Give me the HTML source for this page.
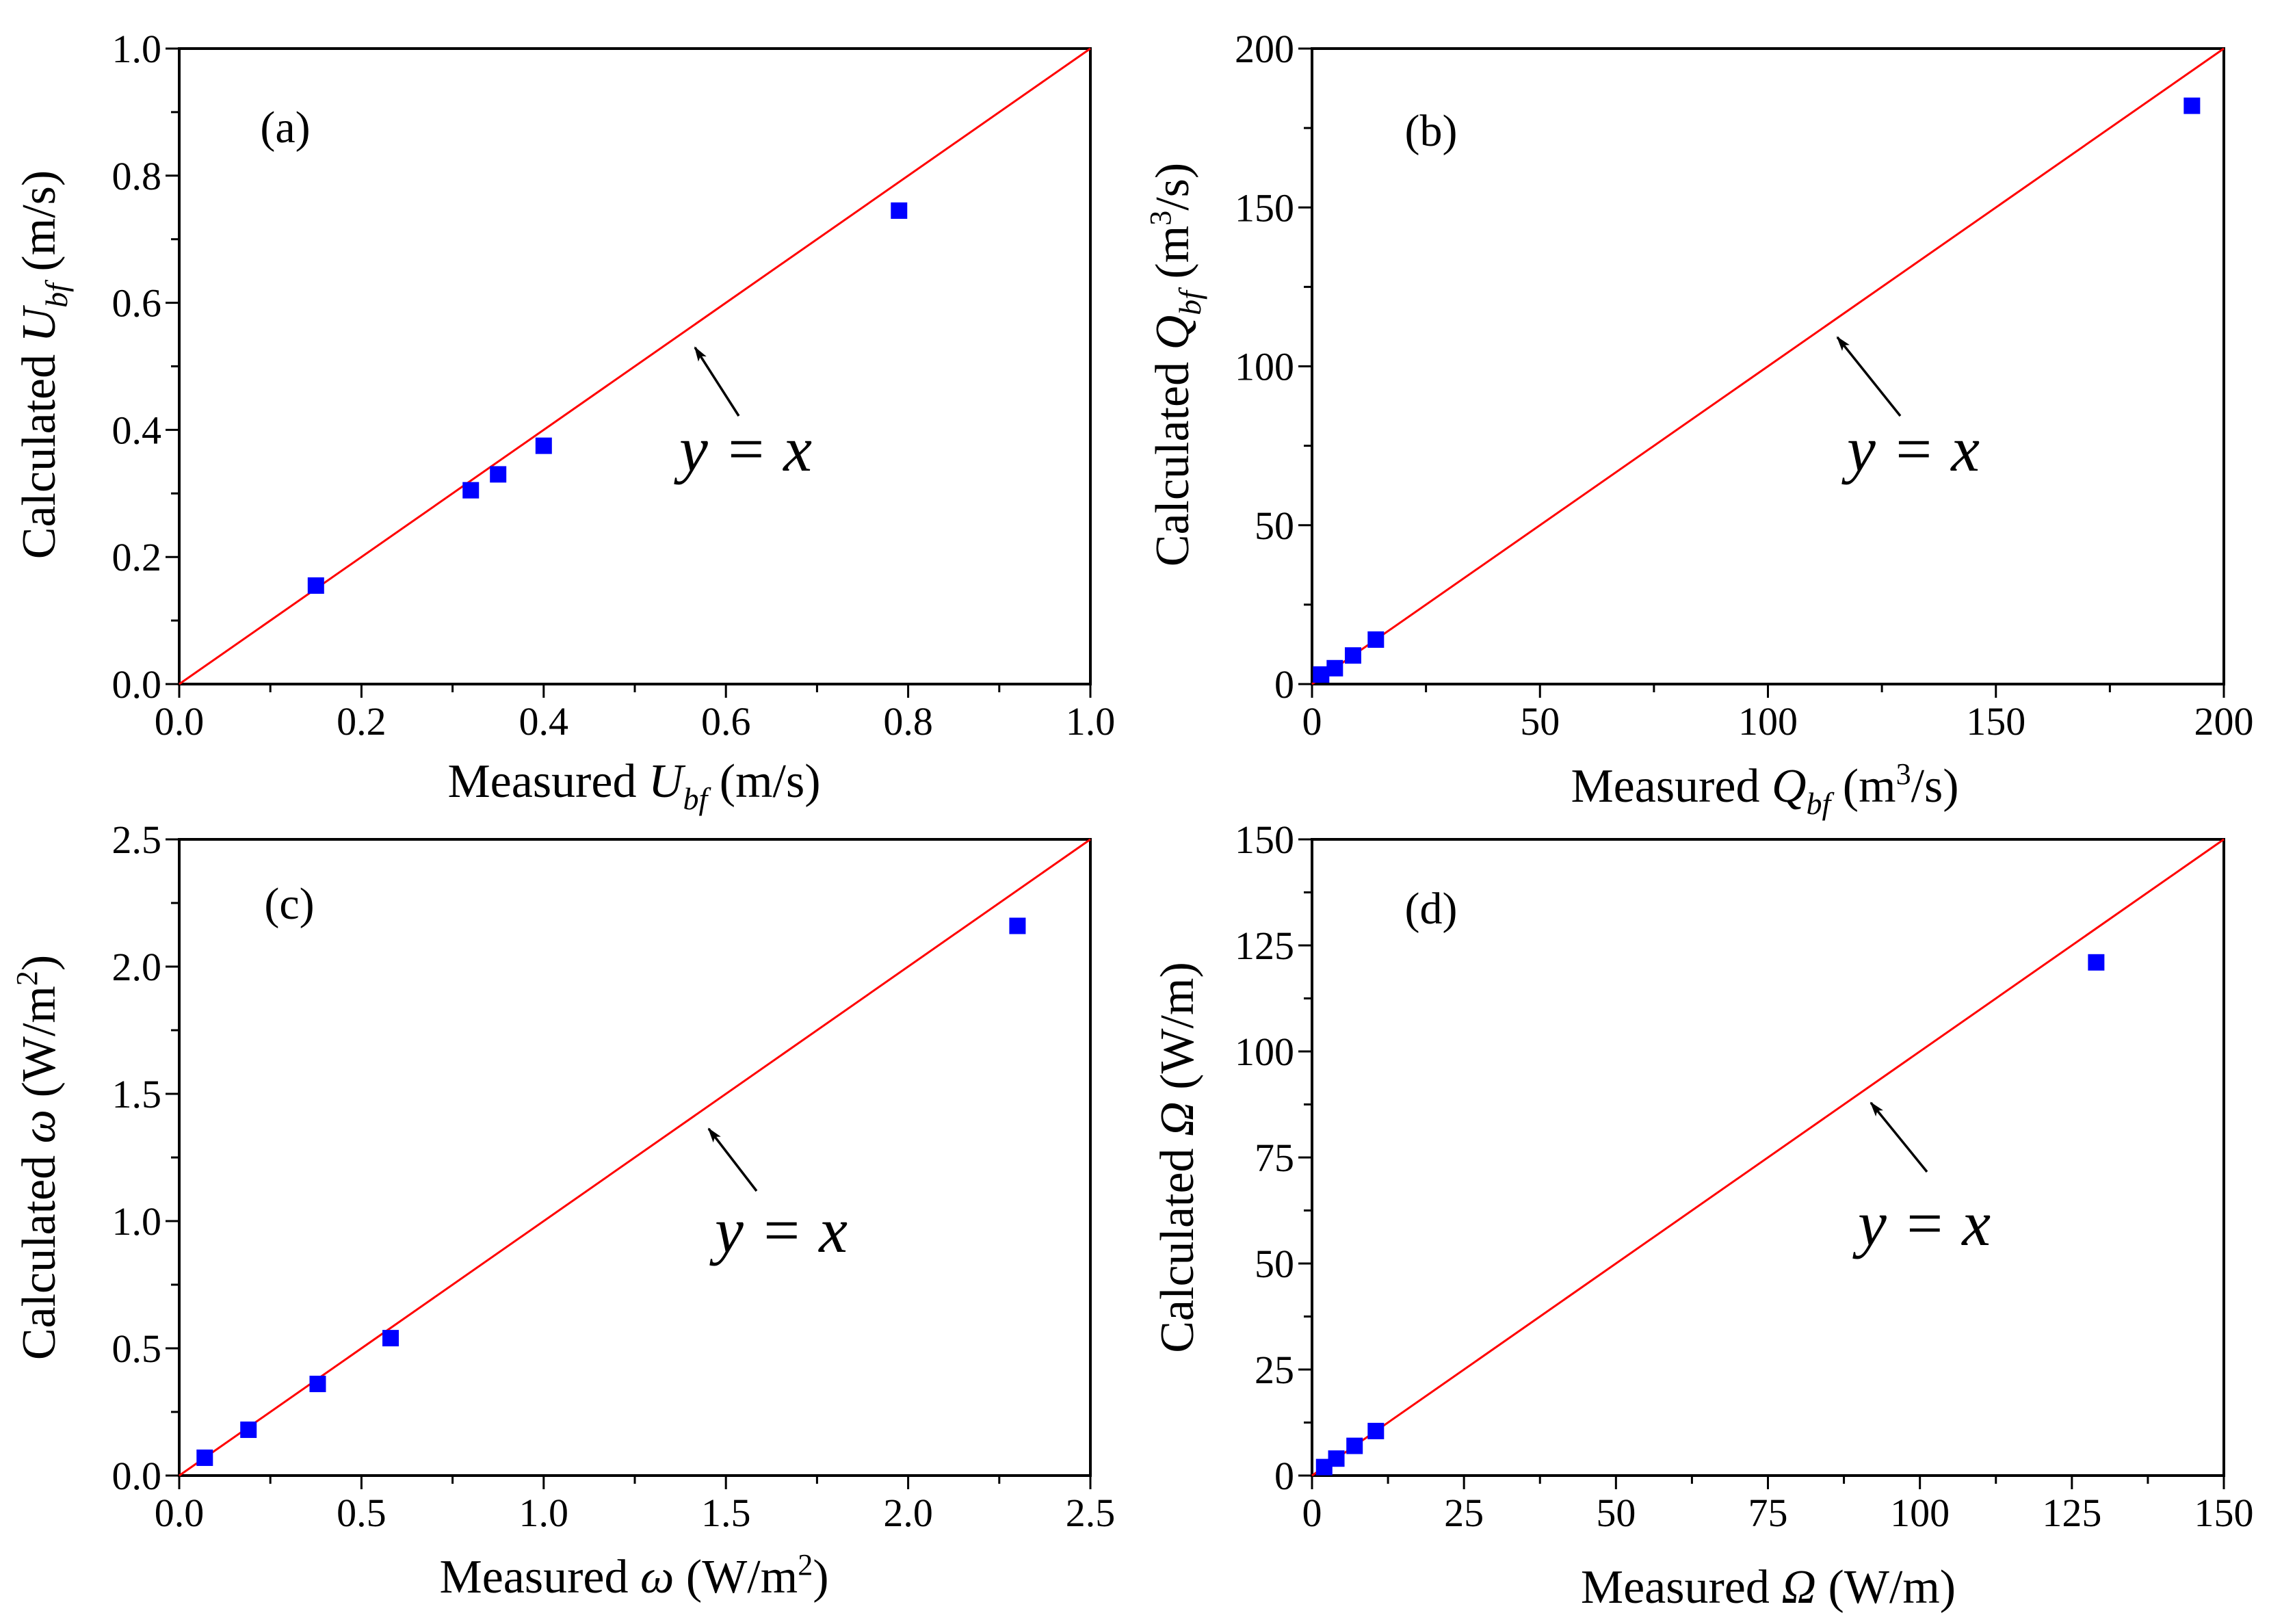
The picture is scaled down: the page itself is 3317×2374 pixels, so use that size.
<!DOCTYPE html>
<html><head><meta charset="utf-8"><style>
html,body{margin:0;padding:0;background:#fff}
svg{display:block}
svg text{font-family:"Liberation Serif","DejaVu Serif",serif}
</style></head><body>
<svg id="fig" width="3317" height="2374" viewBox="0 0 3317 2374" xmlns="http://www.w3.org/2000/svg" font-family="Liberation Serif, serif">
<defs><marker id="ah" markerWidth="22" markerHeight="14" refX="20" refY="7" orient="auto" markerUnits="userSpaceOnUse" viewBox="0 0 22 14"><path d="M0,0 L22,7 L0,14 L5,7 z" fill="#000"/></marker></defs>
</svg>
<script>
const aX=[0.15,0.32,0.35,0.40,0.79];
const aY=[0.155,0.305,0.33,0.375,0.745];
const bX=[2,5,9,14,193];
const bY=[3,5,9,14,182];
const cX=[0.07,0.19,0.38,0.58,2.30];
const cY=[0.07,0.18,0.36,0.54,2.16];
const dX=[2,4,7,10.5,129];
const dY=[2,4,7,10.5,121];
const aTicks=["0.0","0.2","0.4","0.6","0.8","1.0"];
const bTicks=["0","50","100","150","200"];
const cTicks=["0.0","0.5","1.0","1.5","2.0","2.5"];
const dTicks=["0","25","50","75","100","125","150"];

const NS="http://www.w3.org/2000/svg";
const svg=document.getElementById('fig');
const FF='"Liberation Serif", serif';
function el(t,a,p){const e=document.createElementNS(NS,t);for(const k in a)e.setAttribute(k,a[k]);if(t==='text')e.style.fontFamily=FF;(p||svg).appendChild(e);return e;}

const panels=[
 {id:'a',L:262,R:1594,T:71,B:1000,max:1.0,ticks:aTicks,xs:aX,ys:aY,minorN:2,lab:[417,208],eq:[1090,688],ar:[1080,608,1016,508],
  xt:[927,1165],yt:[80,533],xtitle:['Measured ','U','bf',' (m/s)',''],ytitle:['Calculated ','U','bf',' (m/s)','']},
 {id:'b',L:1918,R:3251,T:71,B:1000,max:200,ticks:bTicks,xs:bX,ys:bY,minorN:2,lab:[2092,213],eq:[2797,688],ar:[2778,608,2686,493],
  xt:[2580,1172],yt:[1737,533],xtitle:['Measured ','Q','bf',' (m','3','/s)'],ytitle:['Calculated ','Q','bf',' (m','3','/s)']},
 {id:'c',L:262,R:1594,T:1227,B:2157,max:2.5,ticks:cTicks,xs:cX,ys:cY,minorN:2,lab:[423,1343],eq:[1142,1830],ar:[1106,1741,1036,1650],
  xt:[927,2328],yt:[80,1692],xtitle:['Measured ','ω','',' (W/m','2',')'],ytitle:['Calculated ','ω','',' (W/m','2',')']},
 {id:'d',L:1918,R:3251,T:1227,B:2157,max:150,ticks:dTicks,xs:dX,ys:dY,minorN:2,lab:[2092,1350],eq:[2813,1820],ar:[2817,1713,2735,1612],
  xt:[2585,2343],yt:[1744,1692],xtitle:['Measured ','Ω','',' (W/m)',''],ytitle:['Calculated ','Ω','',' (W/m)','']}
];

function title(p,g,x,y,parts,rot,name){
  const t=el('text',{x:x,y:y,'font-size':70,'text-anchor':'middle',transform:rot?`rotate(-90 ${x} ${y})`:''},g);
  
  
  const s1=el('tspan',{},t);s1.textContent=parts[0];
  const s2=el('tspan',{'font-style':'italic'},t);s2.textContent=parts[1];
  if(parts[2]){const s=el('tspan',{'font-style':'italic','font-size':46,dy:18},t);s.textContent=parts[2];}
  const s3=el('tspan',{dy:parts[2]?-18:0},t);s3.textContent=parts[3];
  if(parts[4]){const s=el('tspan',{'font-size':44,dy:-26},t);s.textContent=parts[4];const s5=el('tspan',{dy:26},t);s5.textContent=parts[5];}
}

panels.forEach(p=>{
  const g=el('g',{});
  
  
  const sx=v=>p.L+(p.R-p.L)*v/p.max;
  const sy=v=>p.B-(p.B-p.T)*v/p.max;
  const frame=el('rect',{x:p.L,y:p.T,width:p.R-p.L,height:p.B-p.T,fill:'none',stroke:'#000','stroke-width':4},g);
  
  
  const n=p.ticks.length-1;
  for(let i=0;i<=n*p.minorN;i++){
    const v=p.max*i/(n*p.minorN);const major=i%p.minorN===0;const len=major?20:12;
    el('line',{x1:sx(v),x2:sx(v),y1:p.B,y2:p.B+len,stroke:'#000','stroke-width':3},g);
    el('line',{x1:p.L,x2:p.L-len,y1:sy(v),y2:sy(v),stroke:'#000','stroke-width':3},g);
  }
  p.ticks.forEach((lbl,i)=>{
    const v=p.max*i/n;
    const tx=el('text',{x:sx(v),y:p.B+74,'font-size':58,'text-anchor':'middle'},g);tx.textContent=lbl;
    
    
    const ty=el('text',{x:p.L-26,y:sy(v)+20,'font-size':58,'text-anchor':'end'},g);ty.textContent=lbl;
    
    
  });
  const ln=el('line',{x1:sx(0),y1:sy(0),x2:sx(p.max),y2:sy(p.max),stroke:'#ff0000','stroke-width':3},g);
  
  
  p.xs.forEach((x,i)=>{
    const r=el('rect',{x:sx(x)-12,y:sy(p.ys[i])-12,width:24,height:24,fill:'#0000ff'},g);
    
    
  });
  const lb=el('text',{x:p.lab[0],y:p.lab[1],'font-size':66,'text-anchor':'middle'},g);lb.textContent='('+p.id+')';
  
  
  const eq=el('text',{x:p.eq[0],y:p.eq[1],'font-size':94,'text-anchor':'middle','font-style':'italic'},g);eq.textContent='y = x';
  
  
  const ar=el('line',{x1:p.ar[0],y1:p.ar[1],x2:p.ar[2],y2:p.ar[3],stroke:'#000','stroke-width':3.5,'marker-end':'url(#ah)'},g);
  
  
  title(p,g,p.xt[0],p.xt[1],p.xtitle,false,'x-axis-title');
  title(p,g,p.yt[0],p.yt[1],p.ytitle,true,'y-axis-title');
});
</script>
</body></html>
